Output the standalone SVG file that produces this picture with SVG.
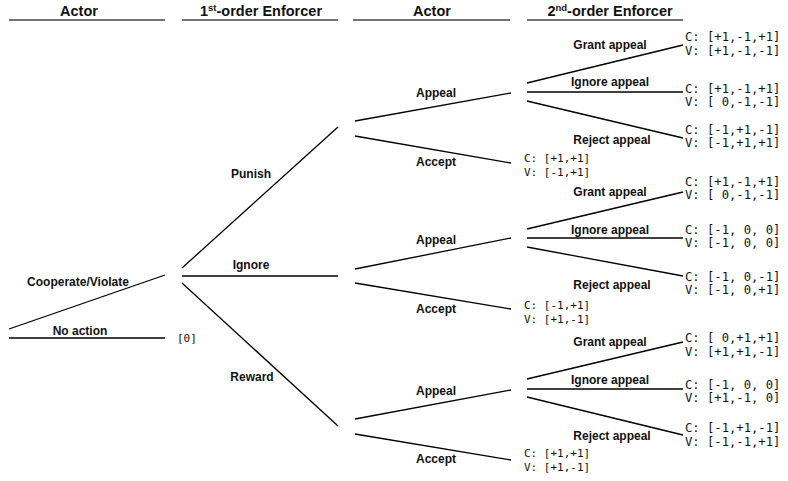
<svg xmlns="http://www.w3.org/2000/svg" width="788" height="481" viewBox="0 0 788 481">
<style>
.hdr{font-family:"Liberation Sans",Arial,sans-serif;font-weight:bold;font-size:14.5px;fill:#111;text-anchor:middle}
.hl{stroke:#444;stroke-width:1.6}
.lb{font-family:"Liberation Sans",Arial,sans-serif;font-weight:bold;font-size:12px;fill:#111;text-anchor:middle}
.po{font-family:"DejaVu Sans Mono","Liberation Mono",monospace;font-size:12.2px;fill:#111;white-space:pre}
.pa{font-family:"DejaVu Sans Mono","Liberation Mono",monospace;font-size:11px;fill:#111;white-space:pre}
.br{stroke:#000;stroke-width:1.3;fill:none}
</style>
<rect width="788" height="481" fill="#fff"/>
<g id="headers">
<line class="hl" x1="9" y1="20" x2="165" y2="20"/>
<line class="hl" x1="182" y1="20" x2="338" y2="20"/>
<line class="hl" x1="353" y1="20" x2="510" y2="20"/>
<line class="hl" x1="527" y1="20" x2="683" y2="20"/>
<text class="hdr" x="79" y="16">Actor</text>
<text class="hdr" x="261" y="16">1<tspan font-size="9.5" dy="-5">st</tspan><tspan dy="5">-order Enforcer</tspan></text>
<text class="hdr" x="432" y="16">Actor</text>
<text class="hdr" x="610" y="16">2<tspan font-size="9.5" dy="-5">nd</tspan><tspan dy="5">-order Enforcer</tspan></text>
</g>
<g id="connectors">
<line class="br" x1="9" y1="329" x2="165" y2="275"/>
<line class="br" x1="9" y1="338" x2="165" y2="338"/>
<line class="br" x1="182" y1="268" x2="338" y2="127"/>
<line class="br" x1="182" y1="276" x2="338" y2="276"/>
<line class="br" x1="182" y1="283" x2="338" y2="426"/>
<line class="br" x1="355" y1="121" x2="511" y2="93"/>
<line class="br" x1="355" y1="136" x2="511" y2="163"/>
<line class="br" x1="355" y1="269" x2="511" y2="238"/>
<line class="br" x1="355" y1="283" x2="511" y2="309"/>
<line class="br" x1="355" y1="419" x2="511" y2="390"/>
<line class="br" x1="355" y1="434" x2="511" y2="460"/>
<line class="br" x1="527" y1="83" x2="683" y2="45"/>
<line class="br" x1="527" y1="92" x2="683" y2="92"/>
<line class="br" x1="527" y1="101" x2="683" y2="138"/>
<line class="br" x1="527" y1="229" x2="683" y2="192"/>
<line class="br" x1="527" y1="238" x2="683" y2="238"/>
<line class="br" x1="527" y1="247" x2="683" y2="276"/>
<line class="br" x1="527" y1="379" x2="683" y2="342"/>
<line class="br" x1="527" y1="389" x2="683" y2="389"/>
<line class="br" x1="527" y1="397" x2="683" y2="435"/>
</g>
<g id="actor-choice">
<text class="lb" x="78" y="286">Cooperate/Violate</text>
<text class="lb" x="80" y="335">No action</text>
<text class="pa" x="177" y="342" font-size="9">[0]</text>
</g>
<g id="first-order">
<text class="lb" x="251" y="178">Punish</text>
<text class="lb" x="251" y="269">Ignore</text>
<text class="lb" x="252" y="381">Reward</text>
</g>
<g id="actor-punish">
<text class="lb" x="436" y="97">Appeal</text>
<text class="lb" x="436" y="166">Accept</text>
<text class="pa" x="524" y="162">C: [+1,+1]</text>
<text class="pa" x="524" y="176">V: [-1,+1]</text>
</g>
<g id="actor-ignore">
<text class="lb" x="436" y="244">Appeal</text>
<text class="lb" x="436" y="313">Accept</text>
<text class="pa" x="524" y="309">C: [-1,+1]</text>
<text class="pa" x="524" y="323">V: [+1,-1]</text>
</g>
<g id="actor-reward">
<text class="lb" x="436" y="395">Appeal</text>
<text class="lb" x="436" y="463">Accept</text>
<text class="pa" x="524" y="457">C: [+1,+1]</text>
<text class="pa" x="524" y="471">V: [+1,-1]</text>
</g>
<g id="second-order-punish">
<text class="lb" x="610" y="49">Grant appeal</text>
<text class="lb" x="610" y="86">Ignore appeal</text>
<text class="lb" x="612" y="144">Reject appeal</text>
<text class="po" x="685" y="41">C: [+1,-1,+1]</text>
<text class="po" x="685" y="55">V: [+1,-1,-1]</text>
<text class="po" x="685" y="93">C: [+1,-1,+1]</text>
<text class="po" x="685" y="106">V: [ 0,-1,-1]</text>
<text class="po" x="685" y="134">C: [-1,+1,-1]</text>
<text class="po" x="685" y="147">V: [-1,+1,+1]</text>
</g>
<g id="second-order-ignore">
<text class="lb" x="610" y="196">Grant appeal</text>
<text class="lb" x="610" y="234">Ignore appeal</text>
<text class="lb" x="612" y="289">Reject appeal</text>
<text class="po" x="685" y="186">C: [+1,-1,+1]</text>
<text class="po" x="685" y="199">V: [ 0,-1,-1]</text>
<text class="po" x="685" y="234">C: [-1, 0, 0]</text>
<text class="po" x="685" y="247">V: [-1, 0, 0]</text>
<text class="po" x="685" y="281">C: [-1, 0,-1]</text>
<text class="po" x="685" y="294">V: [-1, 0,+1]</text>
</g>
<g id="second-order-reward">
<text class="lb" x="610" y="346">Grant appeal</text>
<text class="lb" x="610" y="384">Ignore appeal</text>
<text class="lb" x="612" y="440">Reject appeal</text>
<text class="po" x="685" y="342">C: [ 0,+1,+1]</text>
<text class="po" x="685" y="356">V: [+1,+1,-1]</text>
<text class="po" x="685" y="389">C: [-1, 0, 0]</text>
<text class="po" x="685" y="402">V: [+1,-1, 0]</text>
<text class="po" x="685" y="432">C: [-1,+1,-1]</text>
<text class="po" x="685" y="446">V: [-1,-1,+1]</text>
</g>
</svg>
